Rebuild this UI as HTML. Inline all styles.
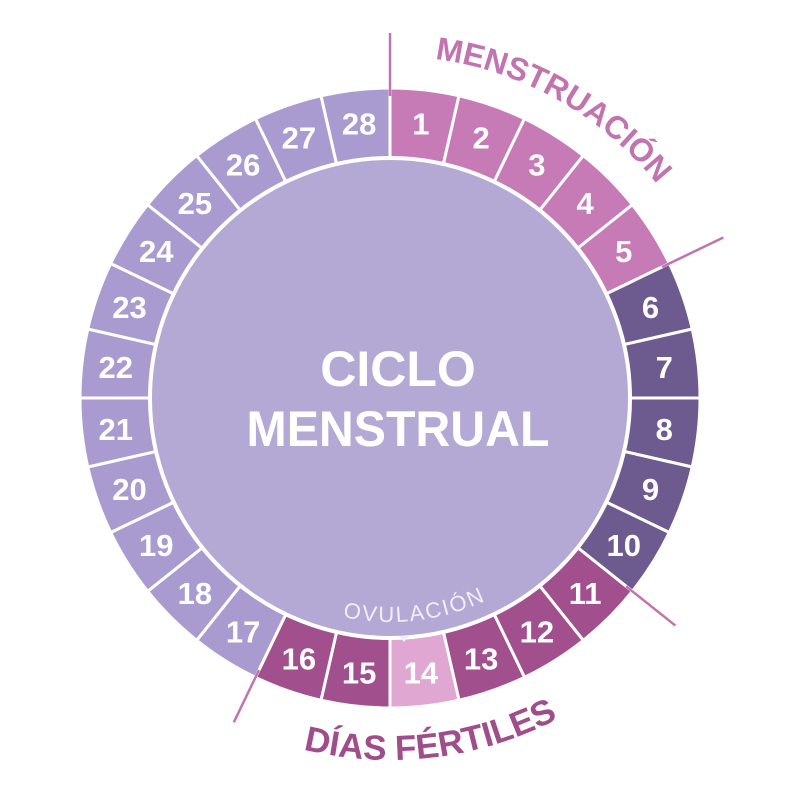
<!DOCTYPE html>
<html><head><meta charset="utf-8"><style>
html,body{margin:0;padding:0;background:#fff;width:800px;height:800px;overflow:hidden}
svg{display:block}
</style></head><body>
<svg id="s" width="800" height="800" viewBox="0 0 800 800" xmlns="http://www.w3.org/2000/svg" font-family="Liberation Sans, sans-serif">
<defs>
<path id="mArc" d="M 390 56 A 342 342 0 0 1 732 398"/>
<path id="dArc" d="M 28 398 A 362 362 0 0 0 752 398"/>
<path id="oArc" d="M 166 398 A 224 224 0 0 0 614 398"/>
</defs>
<g id="ring"></g>
<circle cx="390" cy="398" r="240" fill="#b4a9d4" stroke="#fff" stroke-width="4"/>
<text x="398" y="386" text-anchor="middle" font-size="50" font-weight="bold" fill="#fff">CICLO</text>
<text x="398" y="446" text-anchor="middle" font-size="50" font-weight="bold" fill="#fff" textLength="303" lengthAdjust="spacingAndGlyphs">MENSTRUAL</text>
<text font-size="32" font-weight="bold" fill="#c174b0"><textPath href="#mArc" startOffset="45">MENSTRUACIÓN</textPath></text>
<text font-size="35" font-weight="bold" fill="#a04d8c"><textPath href="#dArc" startOffset="612" text-anchor="middle">DÍAS FÉRTILES</textPath></text>
<text font-size="22" fill="#f4eefa" letter-spacing="2"><textPath href="#oArc" startOffset="378" text-anchor="middle">OVULACIÓN</textPath></text>
<polygon points="399,636 409,636 404,642" fill="#f4eefa"/>
<g stroke="#c174b0" stroke-width="2.5" id="ticks"></g>
</svg>
<script>
var cx=390,cy=398,R=310,r=240,ring=document.getElementById('ring'),ns='http://www.w3.org/2000/svg';
function pt(a,rad){a=a*Math.PI/180;return [cx+rad*Math.sin(a),cy-rad*Math.cos(a)];}
function col(i){if(i<=5)return '#c67bb6';if(i<=10)return '#6d5b90';if(i==14)return '#dfa7d2';if(i<=16)return '#a14f8d';return '#a99bd0';}
var st=360/28;
for(var i=1;i<=28;i++){var a0=(i-1)*st,a1=i*st;
var p1=pt(a0,R),p2=pt(a1,R),p3=pt(a1,r),p4=pt(a0,r);
var p=document.createElementNS(ns,'path');
p.setAttribute('d','M'+p1+' A'+R+' '+R+' 0 0 1 '+p2+' L'+p3+' A'+r+' '+r+' 0 0 0 '+p4+'Z');
p.setAttribute('fill',col(i));p.setAttribute('stroke','#fff');p.setAttribute('stroke-width','3');
ring.appendChild(p);
var c=pt((a0+a1)/2,276);var t=document.createElementNS(ns,'text');
t.setAttribute('x',c[0]);t.setAttribute('y',c[1]+11);t.setAttribute('text-anchor','middle');
t.setAttribute('font-size','31');t.setAttribute('font-weight','bold');t.setAttribute('fill','#fff');
t.textContent=i;ring.appendChild(t);}
var tk=document.getElementById('ticks');
[[0,365],[5*st,370],[10*st,365],[16*st,360]].forEach(function(d){var a=pt(d[0],R-8),b=pt(d[0],d[1]);
var l=document.createElementNS(ns,'line');l.setAttribute('x1',a[0]);l.setAttribute('y1',a[1]);l.setAttribute('x2',b[0]);l.setAttribute('y2',b[1]);tk.appendChild(l);});
</script>
</body></html>
